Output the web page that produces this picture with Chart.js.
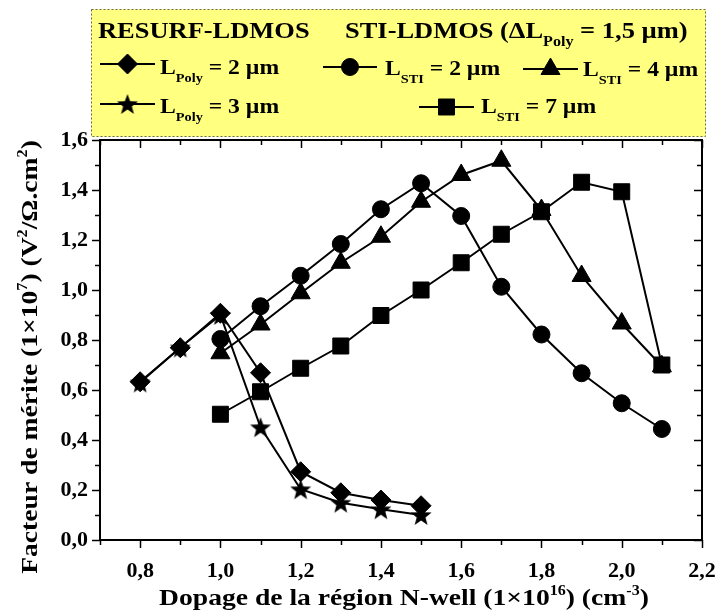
<!DOCTYPE html>
<html>
<head>
<meta charset="utf-8">
<script src="https://cdn.jsdelivr.net/npm/chart.js@4.4.1/dist/chart.umd.min.js"></script>
<style>
  html, body { margin: 0; padding: 0; background: #fff; }
  #wrap { width: 717px; height: 614px; position: relative; }
</style>
</head>
<body>
<div id="wrap"><canvas id="graficoFom"></canvas></div>
<script>
// données
const dopageResurf = [0.8, 0.9, 1.0, 1.1, 1.2, 1.3, 1.4, 1.5];
const fomPoly2 = [0.633, 0.769, 0.907, 0.669, 0.273, 0.189, 0.160, 0.137];
const fomPoly3 = [0.630, 0.770, 0.900, 0.451, 0.203, 0.149, 0.123, 0.100];

const dopageSti = [1.0, 1.1, 1.2, 1.3, 1.4, 1.5, 1.6, 1.7, 1.8, 1.9, 2.0, 2.1];
const fomSti2 = [0.804, 0.935, 1.057, 1.184, 1.323, 1.427, 1.296, 1.013, 0.822, 0.667, 0.547, 0.444];
const fomSti4 = [0.747, 0.862, 0.987, 1.109, 1.213, 1.353, 1.460, 1.517, 1.320, 1.056, 0.866, 0.695];
const fomSti7 = [0.503, 0.593, 0.687, 0.776, 0.898, 1.000, 1.109, 1.223, 1.313, 1.431, 1.393, 0.700];

const xTicks = [0.8, 1.0, 1.2, 1.4, 1.6, 1.8, 2.0, 2.2];
const xMinor = [0.7, 0.9, 1.1, 1.3, 1.5, 1.7, 1.9, 2.1];
const yTicks = [0, 0.2, 0.4, 0.6, 0.8, 1.0, 1.2, 1.4, 1.6];
const yMinor = [0.1, 0.3, 0.5, 0.7, 0.9, 1.1, 1.3, 1.5];

const FONT = '"Liberation Serif", "Times New Roman", serif';
const SX = 1.15; // texte un peu étiré comme dans l'original

// étoile pleine (pas d'étoile pleine dans Chart.js)
function makeStar(size) {
    const c = document.createElement('canvas');
    c.width = size; c.height = size;
    const g = c.getContext('2d');
    const cx = size / 2, cy = size / 2 + 1, R = size / 2 - 1, r = R * 0.42;
    g.beginPath();
    for (let i = 0; i < 10; i++) {
        const a = -Math.PI / 2 + i * Math.PI / 5;
        const rr = i % 2 ? r : R;
        g.lineTo(cx + rr * Math.cos(a), cy + rr * Math.sin(a));
    }
    g.closePath();
    g.fillStyle = '#000';
    g.fill();
    return c;
}
const star = makeStar(24);

const pts = (xs, ys) => xs.map((x, i) => ({ x: x, y: ys[i] }));

const serie = (label, xs, ys, style, radius) => ({
    label: label,
    data: pts(xs, ys),
    borderColor: '#000',
    backgroundColor: '#000',
    borderWidth: 2,
    pointStyle: style,
    pointRadius: radius,
    pointHoverRadius: radius,
    pointBackgroundColor: '#000',
    pointBorderColor: '#000',
    pointBorderWidth: 1,
    tension: 0,
    clip: false
});

// texte avec indices / exposants
function richWidth(ctx, parts, size) {
    let w = 0;
    parts.forEach(p => {
        const s = p.k ? Math.round(size * 0.6) : size;
        ctx.font = 'bold ' + s + 'px ' + FONT;
        w += ctx.measureText(p.t).width;
    });
    return w;
}
function drawRich(ctx, parts, x, y, size) {
    let cx = x;
    parts.forEach(p => {
        const s = p.k ? Math.round(size * 0.6) : size;
        ctx.font = 'bold ' + s + 'px ' + FONT;
        let dy = 0;
        if (p.k === 'sub') dy = size * 0.36;
        if (p.k === 'sup') dy = -size * 0.42;
        ctx.fillText(p.t, cx, y + dy);
        cx += ctx.measureText(p.t).width;
    });
}
function textAt(ctx, parts, x, y, size, sx) {
    ctx.save();
    ctx.translate(x, y);
    ctx.scale(sx || SX, 1);
    ctx.textAlign = 'left';
    ctx.textBaseline = 'alphabetic';
    ctx.fillStyle = '#000';
    drawRich(ctx, parts, 0, 0, size);
    ctx.restore();
}

const legendItems = [
    { style: 'rectRot', r: 10, x1: 100, x2: 155, y: 64, tx: 160, ty: 74, sub: 'Poly', val: ' = 2 µm' },
    { style: star, r: 11, x1: 100, x2: 155, y: 104, tx: 160, ty: 113, sub: 'Poly', val: ' = 3 µm' },
    { style: 'circle', r: 8.5, x1: 323, x2: 377, y: 67, tx: 385, ty: 75, sub: 'STI', val: ' = 2 µm' },
    { style: 'triangle', r: 11, x1: 523, x2: 578, y: 69, tx: 583, ty: 76, sub: 'STI', val: ' = 4 µm' },
    { style: 'rect', r: 11.3, x1: 419, x2: 474, y: 107, tx: 481, ty: 113, sub: 'STI', val: ' = 7 µm' }
];

const decor = {
    id: 'decor',
    afterDraw(chart) {
        const ctx = chart.ctx;
        const a = chart.chartArea;
        const xs = chart.scales.x, ys = chart.scales.y;

        // cadre + graduations
        ctx.save();
        ctx.strokeStyle = '#000';
        ctx.lineWidth = 2;
        ctx.strokeRect(a.left, a.top, a.right - a.left, a.bottom - a.top);
        ctx.lineWidth = 1.5;
        ctx.beginPath();
        const tickX = (v, len) => {
            const p = Math.round(xs.getPixelForValue(v)) + 0.5;
            ctx.moveTo(p, a.bottom); ctx.lineTo(p, a.bottom + len);
            ctx.moveTo(p, a.top); ctx.lineTo(p, a.top + len);
        };
        const tickY = (v, len) => {
            const p = Math.round(ys.getPixelForValue(v)) + 0.5;
            ctx.moveTo(a.left, p); ctx.lineTo(a.left - len, p);
            ctx.moveTo(a.right, p); ctx.lineTo(a.right - len, p);
        };
        xTicks.forEach(v => tickX(v, 8));
        xMinor.forEach(v => tickX(v, 5));
        yTicks.forEach(v => tickY(v, 8));
        yMinor.forEach(v => tickY(v, 5));
        ctx.stroke();
        ctx.restore();

        // titres des axes
        const tx = [{ t: 'Dopage de la région N-well (1×10' }, { t: '16', k: 'sup' }, { t: ') (cm' }, { t: '-3', k: 'sup' }, { t: ')' }];
        const ty = [{ t: 'Facteur de mérite (1×10' }, { t: '7', k: 'sup' }, { t: ') (V' }, { t: '2', k: 'sup' }, { t: '/Ω.cm' }, { t: '2', k: 'sup' }, { t: ')' }];
        const size = 24;
        ctx.save();
        let w = richWidth(ctx, tx, size) * SX;
        textAt(ctx, tx, 404 - w / 2, 605, size);
        w = richWidth(ctx, ty, size) * SX;
        ctx.translate(37, 357);
        ctx.rotate(-Math.PI / 2);
        textAt(ctx, ty, -w / 2, 0, size);
        ctx.restore();

        // boîte de légende
        ctx.save();
        ctx.fillStyle = '#ffff80';
        ctx.fillRect(91, 9, 615, 128);
        ctx.strokeStyle = '#666';
        ctx.lineWidth = 1;
        ctx.setLineDash([2, 2]);
        ctx.strokeRect(91.5, 9.5, 614, 127);
        ctx.restore();

        textAt(ctx, [{ t: 'RESURF-LDMOS' }], 98, 38, 23);
        textAt(ctx, [{ t: 'STI-LDMOS (ΔL' }, { t: 'Poly', k: 'sub' }, { t: ' = 1,5 µm)' }], 345, 38, 23);

        legendItems.forEach(it => {
            ctx.save();
            ctx.strokeStyle = '#000';
            ctx.fillStyle = '#000';
            ctx.lineWidth = 2;
            ctx.beginPath();
            ctx.moveTo(it.x1, it.y); ctx.lineTo(it.x2, it.y);
            ctx.stroke();
            ctx.lineWidth = 1;
            Chart.helpers.drawPoint(ctx, { pointStyle: it.style, radius: it.r, borderWidth: 1, rotation: 0 }, (it.x1 + it.x2) / 2, it.y);
            ctx.restore();
            textAt(ctx, [{ t: 'L' }, { t: it.sub, k: 'sub' }, { t: it.val }], it.tx, it.ty, 21.5, 1.1);
        });
    }
};

const ctxFom = document.getElementById('graficoFom').getContext('2d');
new Chart(ctxFom, {
    type: 'line',
    data: {
        datasets: [
            serie('L_Poly = 3 µm', dopageResurf, fomPoly3, star, 11),
            serie('L_Poly = 2 µm', dopageResurf, fomPoly2, 'rectRot', 10),
            serie('L_STI = 2 µm', dopageSti, fomSti2, 'circle', 8.5),
            serie('L_STI = 4 µm', dopageSti, fomSti4, 'triangle', 11),
            serie('L_STI = 7 µm', dopageSti, fomSti7, 'rect', 11.3)
        ]
    },
    options: {
        responsive: true,
        maintainAspectRatio: false,
        animation: false,
        layout: { padding: { top: 140, right: 0, left: 0, bottom: 0 } },
        scales: {
            x: {
                type: 'linear',
                min: 0.7,
                max: 2.2,
                afterBuildTicks: s => { s.ticks = xTicks.map(v => ({ value: v })); },
                afterFit: s => { s.height = 74; s.paddingLeft = 0; s.paddingRight = 15; },
                grid: { display: false, drawTicks: false },
                border: { display: false },
                ticks: {
                    padding: 18,
                    color: '#000',
                    font: { family: FONT, size: 22, weight: 'bold' },
                    callback: v => v.toFixed(1).replace('.', ',')
                }
            },
            y: {
                type: 'linear',
                min: 0,
                max: 1.6,
                afterBuildTicks: s => { s.ticks = yTicks.map(v => ({ value: v })); },
                afterFit: s => { s.width = 100; s.paddingTop = 0; s.paddingBottom = 0; },
                grid: { display: false, drawTicks: false },
                border: { display: false },
                ticks: {
                    padding: 12,
                    color: '#000',
                    font: { family: FONT, size: 22, weight: 'bold' },
                    callback: v => v.toFixed(1).replace('.', ',')
                }
            }
        },
        plugins: {
            legend: { display: false },
            tooltip: { enabled: false }
        }
    },
    plugins: [decor]
});
</script>
</body>
</html>
